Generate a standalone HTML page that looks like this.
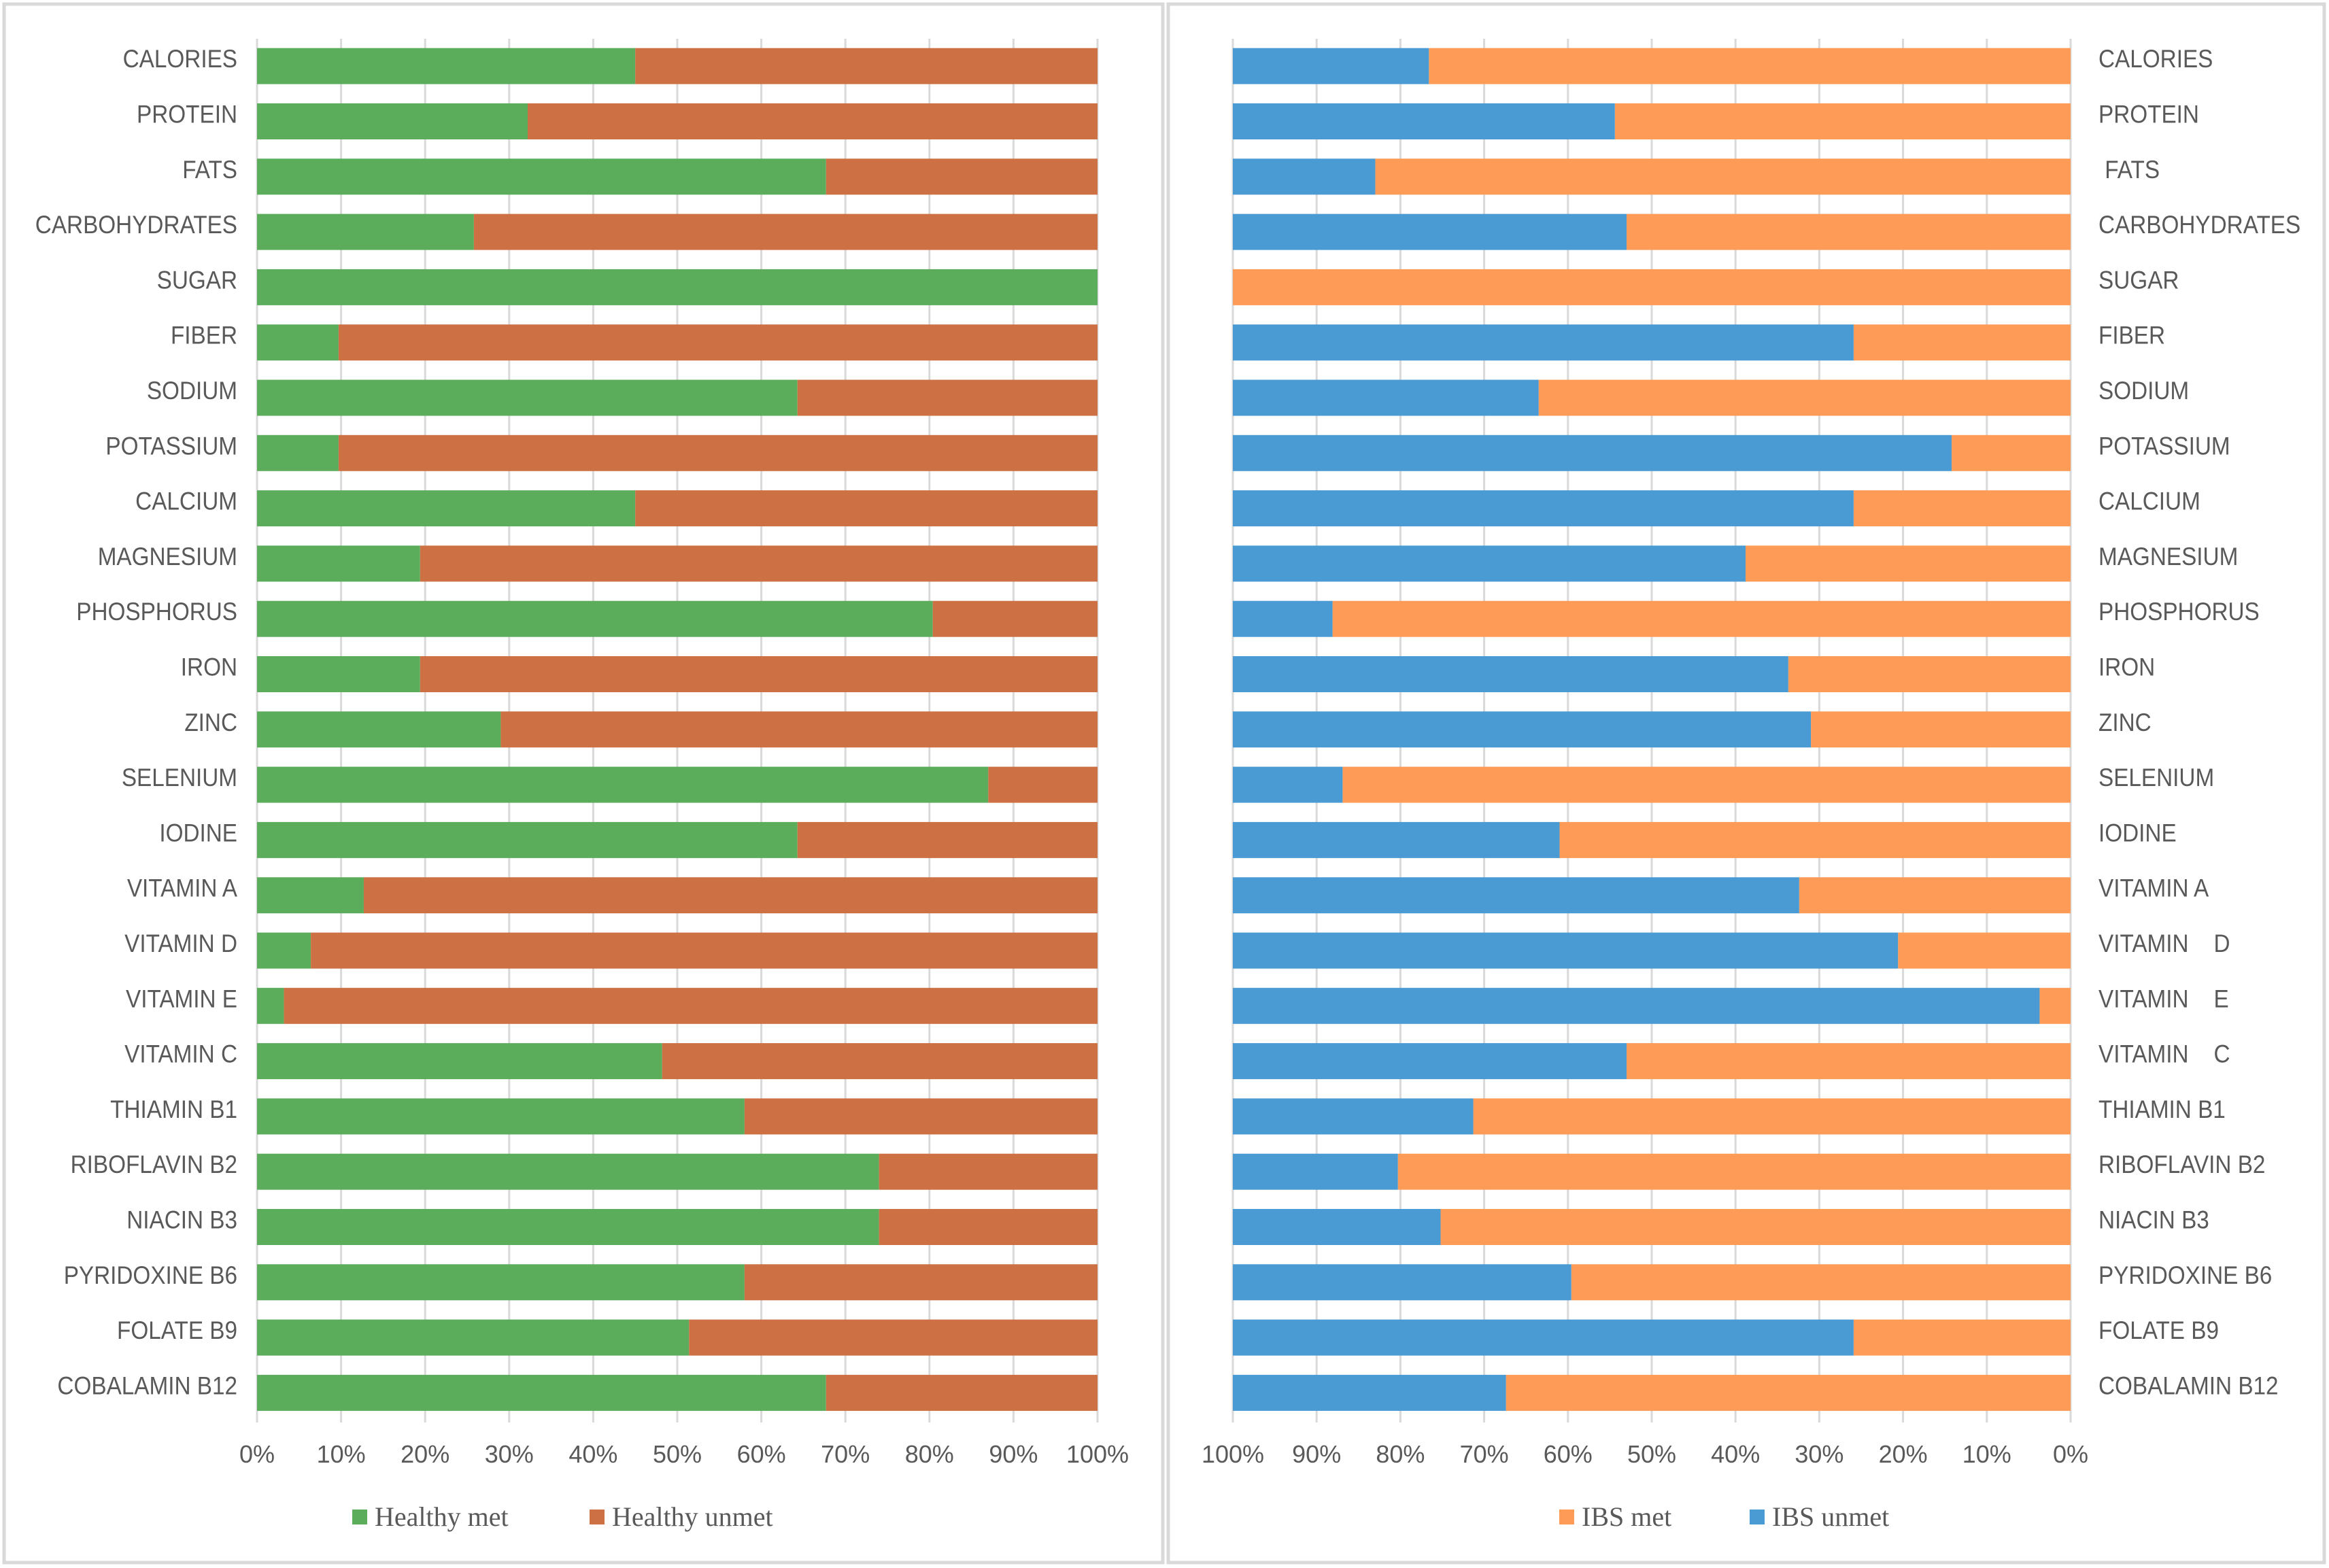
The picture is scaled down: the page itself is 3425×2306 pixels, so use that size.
<!DOCTYPE html>
<html><head><meta charset="utf-8"><style>
html,body{margin:0;padding:0;background:#fff;}
svg{display:block;}
text{font-family:"Liberation Sans",sans-serif;fill:#595959;}
.leg{font-family:"Liberation Serif",serif;}
</style></head><body>
<svg id="chart" width="3425" height="2306" viewBox="0 0 3425 2306" xmlns="http://www.w3.org/2000/svg">
<rect x="6" y="6" width="1704" height="2292" fill="#fff" stroke="#d9d9d9" stroke-width="5"/>
<rect x="1718" y="6" width="1700" height="2292" fill="#fff" stroke="#d9d9d9" stroke-width="5"/>
<g id="left"></g><g id="right"></g>
</svg>
<script>
const categories=["CALORIES","PROTEIN","FATS","CARBOHYDRATES","SUGAR","FIBER","SODIUM","POTASSIUM","CALCIUM","MAGNESIUM","PHOSPHORUS","IRON","ZINC","SELENIUM","IODINE","VITAMIN A","VITAMIN D","VITAMIN E","VITAMIN C","THIAMIN B1","RIBOFLAVIN B2","NIACIN B3","PYRIDOXINE B6","FOLATE B9","COBALAMIN B12"];
const rightLabels=["CALORIES","PROTEIN"," FATS","CARBOHYDRATES","SUGAR","FIBER","SODIUM","POTASSIUM","CALCIUM","MAGNESIUM","PHOSPHORUS","IRON","ZINC","SELENIUM","IODINE","VITAMIN A","VITAMIN    D","VITAMIN    E","VITAMIN    C","THIAMIN B1","RIBOFLAVIN B2","NIACIN B3","PYRIDOXINE B6","FOLATE B9","COBALAMIN B12"];
const healthyMet=[45,32.2,67.7,25.8,100,9.7,64.3,9.7,45,19.4,80.4,19.4,29,87,64.3,12.7,6.4,3.2,48.2,58,74,74,58,51.4,67.7];
const ibsMet=[76.6,54.4,83,53,100,25.9,63.5,14.2,25.9,38.8,88.1,33.7,31,86.9,61,32.4,20.6,3.7,53,71.3,80.3,75.2,59.6,25.9,67.4];
const tickValues=[0,10,20,30,40,50,60,70,80,90,100];
const tickLabels=["0%","10%","20%","30%","40%","50%","60%","70%","80%","90%","100%"];

const NS="http://www.w3.org/2000/svg";
function mk(parent,tag,attrs,txt){const e=document.createElementNS(NS,tag);for(const k in attrs)e.setAttribute(k,attrs[k]);if(txt!==undefined)e.textContent=txt;parent.appendChild(e);return e;}
const rowTop=i=>70.7+i*81.3, barH=53, gridTop=57, gridBot=2092;

// LEFT
const L=document.getElementById('left');
const lx0=378,lw=1236, lx=v=>lx0+v/100*lw;
tickValues.forEach((t,i)=>{
  const g=mk(L,'line',{x1:lx(t),x2:lx(t),y1:gridTop,y2:gridBot,stroke:'#d9d9d9','stroke-width':3});
  
  
  const tl=mk(L,'text',{x:lx(t),y:2151,'font-size':36,'text-anchor':'middle'},tickLabels[i]);
  
  
});
categories.forEach((c,i)=>{
  const y=rowTop(i);
  const a=mk(L,'rect',{x:lx(0),y:y,width:lx(healthyMet[i])-lx(0),height:barH,fill:'#5bad5c'});
  
  
  const b=mk(L,'rect',{x:lx(healthyMet[i]),y:y,width:lx(100)-lx(healthyMet[i]),height:barH,fill:'#cd7043'});
  
  
  const t=mk(L,'text',{transform:`translate(349,${y+barH/2+2}) scale(0.9,1)`,'font-size':37,'text-anchor':'end'},c);
  
  
});
let s=mk(L,'rect',{x:518,y:2220,width:22,height:22,fill:'#5bad5c'});


let lt=mk(L,'text',{x:551,y:2244,'font-size':40,class:'leg'},'Healthy met');


s=mk(L,'rect',{x:867,y:2220,width:22,height:22,fill:'#cd7043'});


lt=mk(L,'text',{x:900,y:2244,'font-size':40,class:'leg'},'Healthy unmet');



// RIGHT (reversed axis: 0% at right)
const R=document.getElementById('right');
const rx0=3045,rw=1232, rx=v=>rx0-v/100*rw;
tickValues.forEach((t,i)=>{
  const g=mk(R,'line',{x1:rx(t),x2:rx(t),y1:gridTop,y2:gridBot,stroke:'#d9d9d9','stroke-width':3});
  
  
  const tl=mk(R,'text',{x:rx(t),y:2151,'font-size':36,'text-anchor':'middle'},tickLabels[i]);
  
  
});
rightLabels.forEach((c,i)=>{
  const y=rowTop(i);
  const a=mk(R,'rect',{x:rx(ibsMet[i]),y:y,width:rx(0)-rx(ibsMet[i]),height:barH,fill:'#fe9b57'});
  
  
  const b=mk(R,'rect',{x:rx(100),y:y,width:rx(ibsMet[i])-rx(100),height:barH,fill:'#4a9bd4'});
  
  
  const t=mk(R,'text',{transform:`translate(3086,${y+barH/2+2}) scale(0.9,1)`,'font-size':37,'xml:space':'preserve','style':'white-space:pre'},c);
  
  
});
s=mk(R,'rect',{x:2293,y:2220,width:22,height:22,fill:'#fe9b57'});


lt=mk(R,'text',{x:2326,y:2244,'font-size':40,class:'leg'},'IBS met');


s=mk(R,'rect',{x:2573,y:2220,width:22,height:22,fill:'#4a9bd4'});


lt=mk(R,'text',{x:2606,y:2244,'font-size':40,class:'leg'},'IBS unmet');


</script>
</body></html>
